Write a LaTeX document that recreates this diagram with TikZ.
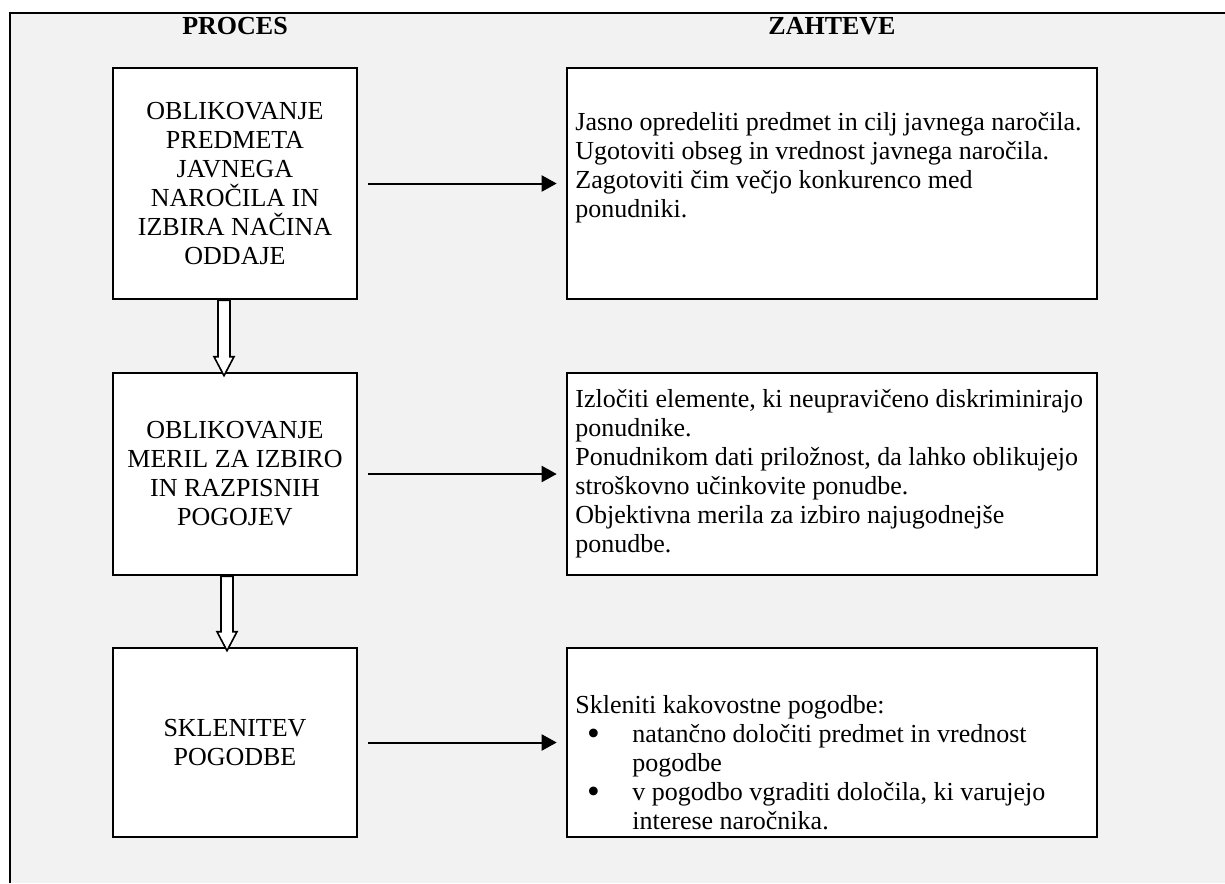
\documentclass[tikz,border=0pt]{standalone}
\usepackage{fontspec}
\setmainfont{Liberation Serif}
\usepackage{xcolor}
\usetikzlibrary{positioning,arrows.meta,calc}
\definecolor{pgbg}{HTML}{F2F2F2}
\newcommand{\hd}[1]{{\bfseries\fontsize{13pt}{14.5pt}\selectfont #1}}
\newcommand{\blt}{\hspace*{5.8pt}\makebox[22.7pt][l]{\raisebox{-1.3pt}{\scalebox{1.4}{\textbullet}}}}

\begin{document}
\begin{tikzpicture}[
  x=0.5pt, y=-0.5pt,
  lbox/.style={draw=black, line width=1.3pt, fill=white, minimum width=122pt, align=center, inner sep=0pt, font=\fontsize{13pt}{14.5pt}\selectfont},
  rbox/.style={draw=black, line width=1.3pt, fill=white, minimum width=265pt, inner sep=0pt},
  txt/.style={anchor=north west, align=left, inner sep=0pt, font=\fontsize{13pt}{14.5pt}\selectfont},
  arr/.style={-{Triangle[length=7.5pt,width=8pt]}, line width=1pt},
  hollow/.style={draw=black, line width=0.8pt, fill=white, line join=miter}
]
\useasboundingbox (0,0) rectangle (1225,883);
\fill[pgbg] (10,13) rectangle (1225,883);
\draw[line width=1pt] (10,883) -- (10,13) -- (1225,13);

% column heads
\node[anchor=base] (hp) at (235,35) {\hd{PROCES}};
\node[anchor=base] (hz) at (832,35) {\hd{ZAHTEVE}};

% process steps
\node[lbox, minimum height=115.5pt] (p1) at (235,183.5) {OBLIKOVANJE\\PREDMETA\\JAVNEGA\\NAROČILA IN\\IZBIRA NAČINA\\ODDAJE};
\node[lbox, minimum height=101pt] (p2) at (235,474) {OBLIKOVANJE\\MERIL ZA IZBIRO\\IN RAZPISNIH\\POGOJEV};
\node[lbox, minimum height=94.5pt] (p3) at (235,742.5) {SKLENITEV\\POGODBE};

% requirements
\node[rbox, minimum height=115.5pt] (z1) at (832,183.5) {};
\node[rbox, minimum height=101pt] (z2) at (832,474) {};
\node[rbox, minimum height=94.5pt] (z3) at (832,742.5) {};

\node[txt] (t1) at (575,112) {Jasno opredeliti predmet in cilj javnega naročila.\\Ugotoviti obseg in vrednost javnega naročila.\\Zagotoviti čim večjo konkurenco med\\ponudniki.};
\node[txt] (t2) at (575,389) {Izločiti elemente, ki neupravičeno diskriminirajo\\ponudnike.\\Ponudnikom dati priložnost, da lahko oblikujejo\\stroškovno učinkovite ponudbe.\\Objektivna merila za izbiro najugodnejše\\ponudbe.};
\node[txt] (t3) at (575,695) {Skleniti kakovostne pogodbe:\\\blt natančno določiti predmet in vrednost\\\hspace*{28.5pt}pogodbe\\\blt v pogodbo vgraditi določila, ki varujejo\\\hspace*{28.5pt}interese naročnika.};

\foreach \i in {1,2,3}
  \draw[arr] ([xshift=5pt]p\i.east) -- ([xshift=-4.5pt]z\i.west);

% hollow block arrows between steps
\foreach \a/\b/\dx in {p1/p2/-11, p2/p3/-8}
  \draw[hollow] ($(\a.south)+(\dx-6,0)$) -- ($(\b.north)+(\dx-6,-15)$) -- ($(\b.north)+(\dx-10,-15)$)
    -- ($(\b.north)+(\dx,4)$) -- ($(\b.north)+(\dx+10,-15)$) -- ($(\b.north)+(\dx+6,-15)$)
    -- ($(\a.south)+(\dx+6,0)$) -- cycle;
\end{tikzpicture}
\end{document}
